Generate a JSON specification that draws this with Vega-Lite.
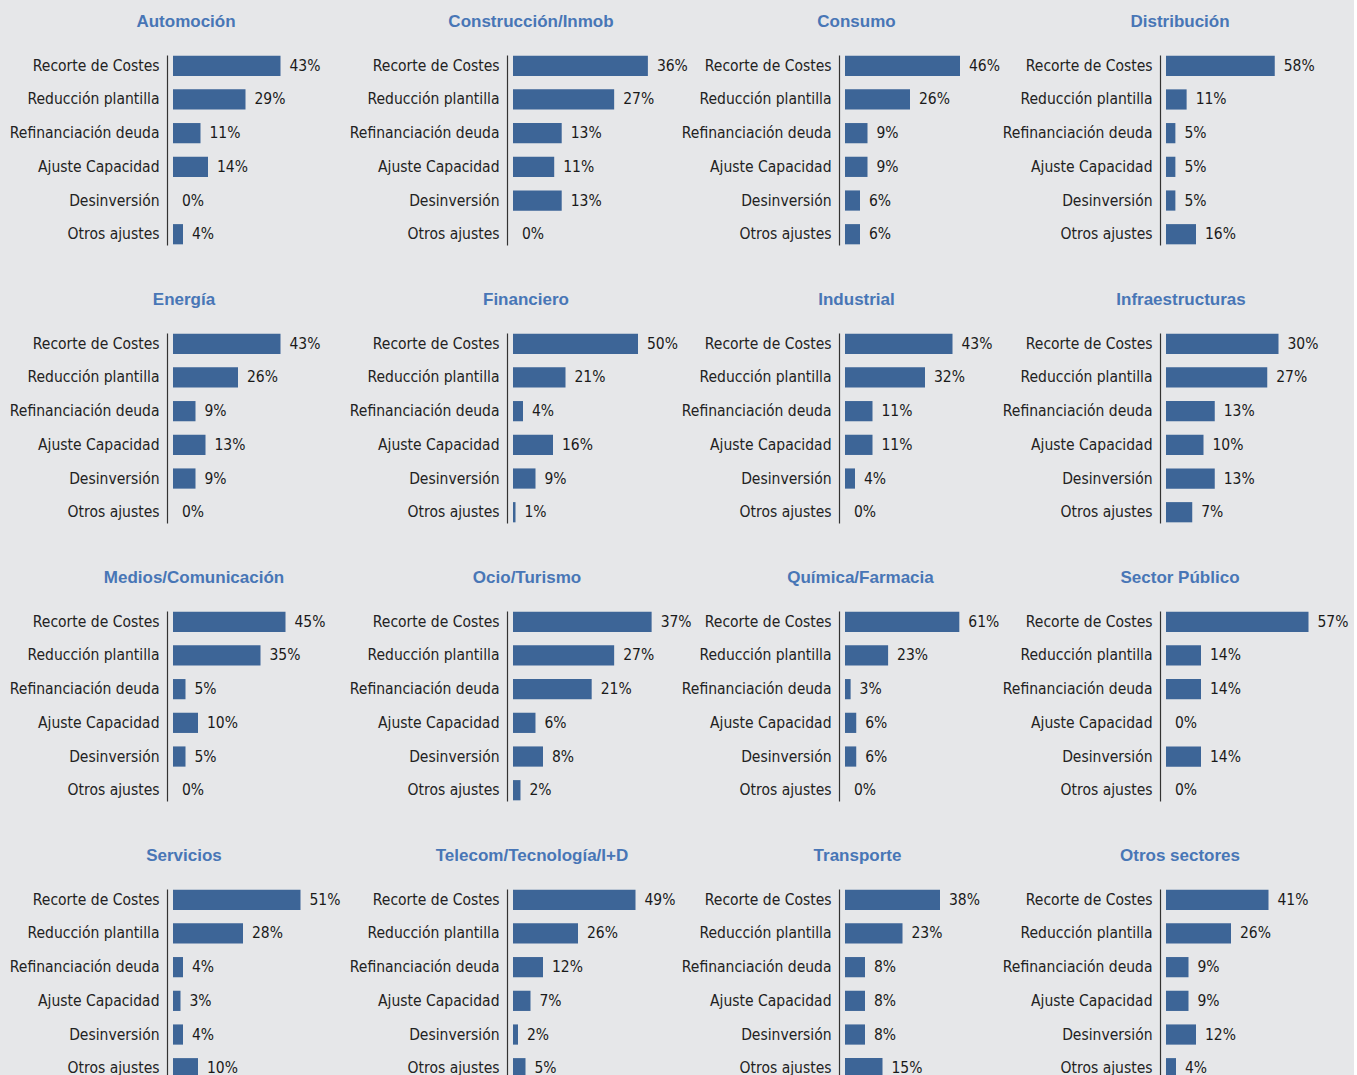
{
  "$schema": "https://vega.github.io/schema/vega-lite/v6.json",
  "background": "#e6e7e9",
  "padding": {"left": 9, "top": 13, "right": 5, "bottom": 5},
  "bounds": "flush",
  "columns": 4,
  "spacing": {"row": 88, "column": 190},
  "data": {"values": [
    {"sector": "Automoción", "medida": "Recorte de Costes", "valor": 0.43},
    {"sector": "Automoción", "medida": "Reducción plantilla", "valor": 0.29},
    {"sector": "Automoción", "medida": "Refinanciación deuda", "valor": 0.11},
    {"sector": "Automoción", "medida": "Ajuste Capacidad", "valor": 0.14},
    {"sector": "Automoción", "medida": "Desinversión", "valor": 0.0},
    {"sector": "Automoción", "medida": "Otros ajustes", "valor": 0.04},
    {"sector": "Construcción/Inmob", "medida": "Recorte de Costes", "valor": 0.36},
    {"sector": "Construcción/Inmob", "medida": "Reducción plantilla", "valor": 0.27},
    {"sector": "Construcción/Inmob", "medida": "Refinanciación deuda", "valor": 0.13},
    {"sector": "Construcción/Inmob", "medida": "Ajuste Capacidad", "valor": 0.11},
    {"sector": "Construcción/Inmob", "medida": "Desinversión", "valor": 0.13},
    {"sector": "Construcción/Inmob", "medida": "Otros ajustes", "valor": 0.0},
    {"sector": "Consumo", "medida": "Recorte de Costes", "valor": 0.46},
    {"sector": "Consumo", "medida": "Reducción plantilla", "valor": 0.26},
    {"sector": "Consumo", "medida": "Refinanciación deuda", "valor": 0.09},
    {"sector": "Consumo", "medida": "Ajuste Capacidad", "valor": 0.09},
    {"sector": "Consumo", "medida": "Desinversión", "valor": 0.06},
    {"sector": "Consumo", "medida": "Otros ajustes", "valor": 0.06},
    {"sector": "Distribución", "medida": "Recorte de Costes", "valor": 0.58},
    {"sector": "Distribución", "medida": "Reducción plantilla", "valor": 0.11},
    {"sector": "Distribución", "medida": "Refinanciación deuda", "valor": 0.05},
    {"sector": "Distribución", "medida": "Ajuste Capacidad", "valor": 0.05},
    {"sector": "Distribución", "medida": "Desinversión", "valor": 0.05},
    {"sector": "Distribución", "medida": "Otros ajustes", "valor": 0.16},
    {"sector": "Energía", "medida": "Recorte de Costes", "valor": 0.43},
    {"sector": "Energía", "medida": "Reducción plantilla", "valor": 0.26},
    {"sector": "Energía", "medida": "Refinanciación deuda", "valor": 0.09},
    {"sector": "Energía", "medida": "Ajuste Capacidad", "valor": 0.13},
    {"sector": "Energía", "medida": "Desinversión", "valor": 0.09},
    {"sector": "Energía", "medida": "Otros ajustes", "valor": 0.0},
    {"sector": "Financiero", "medida": "Recorte de Costes", "valor": 0.5},
    {"sector": "Financiero", "medida": "Reducción plantilla", "valor": 0.21},
    {"sector": "Financiero", "medida": "Refinanciación deuda", "valor": 0.04},
    {"sector": "Financiero", "medida": "Ajuste Capacidad", "valor": 0.16},
    {"sector": "Financiero", "medida": "Desinversión", "valor": 0.09},
    {"sector": "Financiero", "medida": "Otros ajustes", "valor": 0.01},
    {"sector": "Industrial", "medida": "Recorte de Costes", "valor": 0.43},
    {"sector": "Industrial", "medida": "Reducción plantilla", "valor": 0.32},
    {"sector": "Industrial", "medida": "Refinanciación deuda", "valor": 0.11},
    {"sector": "Industrial", "medida": "Ajuste Capacidad", "valor": 0.11},
    {"sector": "Industrial", "medida": "Desinversión", "valor": 0.04},
    {"sector": "Industrial", "medida": "Otros ajustes", "valor": 0.0},
    {"sector": "Infraestructuras", "medida": "Recorte de Costes", "valor": 0.3},
    {"sector": "Infraestructuras", "medida": "Reducción plantilla", "valor": 0.27},
    {"sector": "Infraestructuras", "medida": "Refinanciación deuda", "valor": 0.13},
    {"sector": "Infraestructuras", "medida": "Ajuste Capacidad", "valor": 0.1},
    {"sector": "Infraestructuras", "medida": "Desinversión", "valor": 0.13},
    {"sector": "Infraestructuras", "medida": "Otros ajustes", "valor": 0.07},
    {"sector": "Medios/Comunicación", "medida": "Recorte de Costes", "valor": 0.45},
    {"sector": "Medios/Comunicación", "medida": "Reducción plantilla", "valor": 0.35},
    {"sector": "Medios/Comunicación", "medida": "Refinanciación deuda", "valor": 0.05},
    {"sector": "Medios/Comunicación", "medida": "Ajuste Capacidad", "valor": 0.1},
    {"sector": "Medios/Comunicación", "medida": "Desinversión", "valor": 0.05},
    {"sector": "Medios/Comunicación", "medida": "Otros ajustes", "valor": 0.0},
    {"sector": "Ocio/Turismo", "medida": "Recorte de Costes", "valor": 0.37},
    {"sector": "Ocio/Turismo", "medida": "Reducción plantilla", "valor": 0.27},
    {"sector": "Ocio/Turismo", "medida": "Refinanciación deuda", "valor": 0.21},
    {"sector": "Ocio/Turismo", "medida": "Ajuste Capacidad", "valor": 0.06},
    {"sector": "Ocio/Turismo", "medida": "Desinversión", "valor": 0.08},
    {"sector": "Ocio/Turismo", "medida": "Otros ajustes", "valor": 0.02},
    {"sector": "Química/Farmacia", "medida": "Recorte de Costes", "valor": 0.61},
    {"sector": "Química/Farmacia", "medida": "Reducción plantilla", "valor": 0.23},
    {"sector": "Química/Farmacia", "medida": "Refinanciación deuda", "valor": 0.03},
    {"sector": "Química/Farmacia", "medida": "Ajuste Capacidad", "valor": 0.06},
    {"sector": "Química/Farmacia", "medida": "Desinversión", "valor": 0.06},
    {"sector": "Química/Farmacia", "medida": "Otros ajustes", "valor": 0.0},
    {"sector": "Sector Público", "medida": "Recorte de Costes", "valor": 0.57},
    {"sector": "Sector Público", "medida": "Reducción plantilla", "valor": 0.14},
    {"sector": "Sector Público", "medida": "Refinanciación deuda", "valor": 0.14},
    {"sector": "Sector Público", "medida": "Ajuste Capacidad", "valor": 0.0},
    {"sector": "Sector Público", "medida": "Desinversión", "valor": 0.14},
    {"sector": "Sector Público", "medida": "Otros ajustes", "valor": 0.0},
    {"sector": "Servicios", "medida": "Recorte de Costes", "valor": 0.51},
    {"sector": "Servicios", "medida": "Reducción plantilla", "valor": 0.28},
    {"sector": "Servicios", "medida": "Refinanciación deuda", "valor": 0.04},
    {"sector": "Servicios", "medida": "Ajuste Capacidad", "valor": 0.03},
    {"sector": "Servicios", "medida": "Desinversión", "valor": 0.04},
    {"sector": "Servicios", "medida": "Otros ajustes", "valor": 0.1},
    {"sector": "Telecom/Tecnología/I+D", "medida": "Recorte de Costes", "valor": 0.49},
    {"sector": "Telecom/Tecnología/I+D", "medida": "Reducción plantilla", "valor": 0.26},
    {"sector": "Telecom/Tecnología/I+D", "medida": "Refinanciación deuda", "valor": 0.12},
    {"sector": "Telecom/Tecnología/I+D", "medida": "Ajuste Capacidad", "valor": 0.07},
    {"sector": "Telecom/Tecnología/I+D", "medida": "Desinversión", "valor": 0.02},
    {"sector": "Telecom/Tecnología/I+D", "medida": "Otros ajustes", "valor": 0.05},
    {"sector": "Transporte", "medida": "Recorte de Costes", "valor": 0.38},
    {"sector": "Transporte", "medida": "Reducción plantilla", "valor": 0.23},
    {"sector": "Transporte", "medida": "Refinanciación deuda", "valor": 0.08},
    {"sector": "Transporte", "medida": "Ajuste Capacidad", "valor": 0.08},
    {"sector": "Transporte", "medida": "Desinversión", "valor": 0.08},
    {"sector": "Transporte", "medida": "Otros ajustes", "valor": 0.15},
    {"sector": "Otros sectores", "medida": "Recorte de Costes", "valor": 0.41},
    {"sector": "Otros sectores", "medida": "Reducción plantilla", "valor": 0.26},
    {"sector": "Otros sectores", "medida": "Refinanciación deuda", "valor": 0.09},
    {"sector": "Otros sectores", "medida": "Ajuste Capacidad", "valor": 0.09},
    {"sector": "Otros sectores", "medida": "Desinversión", "valor": 0.12},
    {"sector": "Otros sectores", "medida": "Otros ajustes", "valor": 0.04}
  ]},
  "concat": [
      {"title": {"text": "Automoción", "dx": -62}, "width": 150, "height": 190,
       "transform": [{"filter": "datum.sector === 'Automoción'"}],
       "encoding": {
         "y": {"field": "medida", "type": "nominal", "title": null, "sort": ["Recorte de Costes", "Reducción plantilla", "Refinanciación deuda", "Ajuste Capacidad", "Desinversión", "Otros ajustes"]},
         "x": {"field": "valor", "type": "quantitative", "axis": null, "scale": {"domain": [0, 0.6]}}},
       "layer": [{"mark": {"type": "bar", "color": "#3d6597"}},
                 {"mark": {"type": "text", "align": "left", "dx": 9}, "encoding": {"text": {"field": "valor", "type": "quantitative", "format": ".0%"}}}]},
      {"title": {"text": "Construcción/Inmob", "dx": -53}, "width": 142, "height": 190,
       "transform": [{"filter": "datum.sector === 'Construcción/Inmob'"}],
       "encoding": {
         "y": {"field": "medida", "type": "nominal", "title": null, "sort": ["Recorte de Costes", "Reducción plantilla", "Refinanciación deuda", "Ajuste Capacidad", "Desinversión", "Otros ajustes"]},
         "x": {"field": "valor", "type": "quantitative", "axis": null, "scale": {"domain": [0, 0.379]}}},
       "layer": [{"mark": {"type": "bar", "color": "#3d6597"}},
                 {"mark": {"type": "text", "align": "left", "dx": 9}, "encoding": {"text": {"field": "valor", "type": "quantitative", "format": ".0%"}}}]},
      {"title": {"text": "Consumo", "dx": -54}, "width": 131, "height": 190,
       "transform": [{"filter": "datum.sector === 'Consumo'"}],
       "encoding": {
         "y": {"field": "medida", "type": "nominal", "title": null, "sort": ["Recorte de Costes", "Reducción plantilla", "Refinanciación deuda", "Ajuste Capacidad", "Desinversión", "Otros ajustes"]},
         "x": {"field": "valor", "type": "quantitative", "axis": null, "scale": {"domain": [0, 0.524]}}},
       "layer": [{"mark": {"type": "bar", "color": "#3d6597"}},
                 {"mark": {"type": "text", "align": "left", "dx": 9}, "encoding": {"text": {"field": "valor", "type": "quantitative", "format": ".0%"}}}]},
      {"title": {"text": "Distribución", "dx": -61}, "width": 150, "height": 190,
       "transform": [{"filter": "datum.sector === 'Distribución'"}],
       "encoding": {
         "y": {"field": "medida", "type": "nominal", "title": null, "sort": ["Recorte de Costes", "Reducción plantilla", "Refinanciación deuda", "Ajuste Capacidad", "Desinversión", "Otros ajustes"]},
         "x": {"field": "valor", "type": "quantitative", "axis": null, "scale": {"domain": [0, 0.8]}}},
       "layer": [{"mark": {"type": "bar", "color": "#3d6597"}},
                 {"mark": {"type": "text", "align": "left", "dx": 9}, "encoding": {"text": {"field": "valor", "type": "quantitative", "format": ".0%"}}}]},
      {"title": {"text": "Energía", "dx": -64}, "width": 150, "height": 190,
       "transform": [{"filter": "datum.sector === 'Energía'"}],
       "encoding": {
         "y": {"field": "medida", "type": "nominal", "title": null, "sort": ["Recorte de Costes", "Reducción plantilla", "Refinanciación deuda", "Ajuste Capacidad", "Desinversión", "Otros ajustes"]},
         "x": {"field": "valor", "type": "quantitative", "axis": null, "scale": {"domain": [0, 0.6]}}},
       "layer": [{"mark": {"type": "bar", "color": "#3d6597"}},
                 {"mark": {"type": "text", "align": "left", "dx": 9}, "encoding": {"text": {"field": "valor", "type": "quantitative", "format": ".0%"}}}]},
      {"title": {"text": "Financiero", "dx": -58}, "width": 142, "height": 190,
       "transform": [{"filter": "datum.sector === 'Financiero'"}],
       "encoding": {
         "y": {"field": "medida", "type": "nominal", "title": null, "sort": ["Recorte de Costes", "Reducción plantilla", "Refinanciación deuda", "Ajuste Capacidad", "Desinversión", "Otros ajustes"]},
         "x": {"field": "valor", "type": "quantitative", "axis": null, "scale": {"domain": [0, 0.568]}}},
       "layer": [{"mark": {"type": "bar", "color": "#3d6597"}},
                 {"mark": {"type": "text", "align": "left", "dx": 9}, "encoding": {"text": {"field": "valor", "type": "quantitative", "format": ".0%"}}}]},
      {"title": {"text": "Industrial", "dx": -54}, "width": 131, "height": 190,
       "transform": [{"filter": "datum.sector === 'Industrial'"}],
       "encoding": {
         "y": {"field": "medida", "type": "nominal", "title": null, "sort": ["Recorte de Costes", "Reducción plantilla", "Refinanciación deuda", "Ajuste Capacidad", "Desinversión", "Otros ajustes"]},
         "x": {"field": "valor", "type": "quantitative", "axis": null, "scale": {"domain": [0, 0.524]}}},
       "layer": [{"mark": {"type": "bar", "color": "#3d6597"}},
                 {"mark": {"type": "text", "align": "left", "dx": 9}, "encoding": {"text": {"field": "valor", "type": "quantitative", "format": ".0%"}}}]},
      {"title": {"text": "Infraestructuras", "dx": -60}, "width": 150, "height": 190,
       "transform": [{"filter": "datum.sector === 'Infraestructuras'"}],
       "encoding": {
         "y": {"field": "medida", "type": "nominal", "title": null, "sort": ["Recorte de Costes", "Reducción plantilla", "Refinanciación deuda", "Ajuste Capacidad", "Desinversión", "Otros ajustes"]},
         "x": {"field": "valor", "type": "quantitative", "axis": null, "scale": {"domain": [0, 0.4]}}},
       "layer": [{"mark": {"type": "bar", "color": "#3d6597"}},
                 {"mark": {"type": "text", "align": "left", "dx": 9}, "encoding": {"text": {"field": "valor", "type": "quantitative", "format": ".0%"}}}]},
      {"title": {"text": "Medios/Comunicación", "dx": -54}, "width": 150, "height": 190,
       "transform": [{"filter": "datum.sector === 'Medios/Comunicación'"}],
       "encoding": {
         "y": {"field": "medida", "type": "nominal", "title": null, "sort": ["Recorte de Costes", "Reducción plantilla", "Refinanciación deuda", "Ajuste Capacidad", "Desinversión", "Otros ajustes"]},
         "x": {"field": "valor", "type": "quantitative", "axis": null, "scale": {"domain": [0, 0.6]}}},
       "layer": [{"mark": {"type": "bar", "color": "#3d6597"}},
                 {"mark": {"type": "text", "align": "left", "dx": 9}, "encoding": {"text": {"field": "valor", "type": "quantitative", "format": ".0%"}}}]},
      {"title": {"text": "Ocio/Turismo", "dx": -57}, "width": 142, "height": 190,
       "transform": [{"filter": "datum.sector === 'Ocio/Turismo'"}],
       "encoding": {
         "y": {"field": "medida", "type": "nominal", "title": null, "sort": ["Recorte de Costes", "Reducción plantilla", "Refinanciación deuda", "Ajuste Capacidad", "Desinversión", "Otros ajustes"]},
         "x": {"field": "valor", "type": "quantitative", "axis": null, "scale": {"domain": [0, 0.379]}}},
       "layer": [{"mark": {"type": "bar", "color": "#3d6597"}},
                 {"mark": {"type": "text", "align": "left", "dx": 9}, "encoding": {"text": {"field": "valor", "type": "quantitative", "format": ".0%"}}}]},
      {"title": {"text": "Química/Farmacia", "dx": -50}, "width": 131, "height": 190,
       "transform": [{"filter": "datum.sector === 'Química/Farmacia'"}],
       "encoding": {
         "y": {"field": "medida", "type": "nominal", "title": null, "sort": ["Recorte de Costes", "Reducción plantilla", "Refinanciación deuda", "Ajuste Capacidad", "Desinversión", "Otros ajustes"]},
         "x": {"field": "valor", "type": "quantitative", "axis": null, "scale": {"domain": [0, 0.699]}}},
       "layer": [{"mark": {"type": "bar", "color": "#3d6597"}},
                 {"mark": {"type": "text", "align": "left", "dx": 9}, "encoding": {"text": {"field": "valor", "type": "quantitative", "format": ".0%"}}}]},
      {"title": {"text": "Sector Público", "dx": -61}, "width": 150, "height": 190,
       "transform": [{"filter": "datum.sector === 'Sector Público'"}],
       "encoding": {
         "y": {"field": "medida", "type": "nominal", "title": null, "sort": ["Recorte de Costes", "Reducción plantilla", "Refinanciación deuda", "Ajuste Capacidad", "Desinversión", "Otros ajustes"]},
         "x": {"field": "valor", "type": "quantitative", "axis": null, "scale": {"domain": [0, 0.6]}}},
       "layer": [{"mark": {"type": "bar", "color": "#3d6597"}},
                 {"mark": {"type": "text", "align": "left", "dx": 9}, "encoding": {"text": {"field": "valor", "type": "quantitative", "format": ".0%"}}}]},
      {"title": {"text": "Servicios", "dx": -64}, "width": 150, "height": 190,
       "transform": [{"filter": "datum.sector === 'Servicios'"}],
       "encoding": {
         "y": {"field": "medida", "type": "nominal", "title": null, "sort": ["Recorte de Costes", "Reducción plantilla", "Refinanciación deuda", "Ajuste Capacidad", "Desinversión", "Otros ajustes"]},
         "x": {"field": "valor", "type": "quantitative", "axis": null, "scale": {"domain": [0, 0.6]}}},
       "layer": [{"mark": {"type": "bar", "color": "#3d6597"}},
                 {"mark": {"type": "text", "align": "left", "dx": 9}, "encoding": {"text": {"field": "valor", "type": "quantitative", "format": ".0%"}}}]},
      {"title": {"text": "Telecom/Tecnología/I+D", "dx": -52}, "width": 142, "height": 190,
       "transform": [{"filter": "datum.sector === 'Telecom/Tecnología/I+D'"}],
       "encoding": {
         "y": {"field": "medida", "type": "nominal", "title": null, "sort": ["Recorte de Costes", "Reducción plantilla", "Refinanciación deuda", "Ajuste Capacidad", "Desinversión", "Otros ajustes"]},
         "x": {"field": "valor", "type": "quantitative", "axis": null, "scale": {"domain": [0, 0.568]}}},
       "layer": [{"mark": {"type": "bar", "color": "#3d6597"}},
                 {"mark": {"type": "text", "align": "left", "dx": 9}, "encoding": {"text": {"field": "valor", "type": "quantitative", "format": ".0%"}}}]},
      {"title": {"text": "Transporte", "dx": -53}, "width": 131, "height": 190,
       "transform": [{"filter": "datum.sector === 'Transporte'"}],
       "encoding": {
         "y": {"field": "medida", "type": "nominal", "title": null, "sort": ["Recorte de Costes", "Reducción plantilla", "Refinanciación deuda", "Ajuste Capacidad", "Desinversión", "Otros ajustes"]},
         "x": {"field": "valor", "type": "quantitative", "axis": null, "scale": {"domain": [0, 0.524]}}},
       "layer": [{"mark": {"type": "bar", "color": "#3d6597"}},
                 {"mark": {"type": "text", "align": "left", "dx": 9}, "encoding": {"text": {"field": "valor", "type": "quantitative", "format": ".0%"}}}]},
      {"title": {"text": "Otros sectores", "dx": -61}, "width": 150, "height": 190,
       "transform": [{"filter": "datum.sector === 'Otros sectores'"}],
       "encoding": {
         "y": {"field": "medida", "type": "nominal", "title": null, "sort": ["Recorte de Costes", "Reducción plantilla", "Refinanciación deuda", "Ajuste Capacidad", "Desinversión", "Otros ajustes"]},
         "x": {"field": "valor", "type": "quantitative", "axis": null, "scale": {"domain": [0, 0.6]}}},
       "layer": [{"mark": {"type": "bar", "color": "#3d6597"}},
                 {"mark": {"type": "text", "align": "left", "dx": 9}, "encoding": {"text": {"field": "valor", "type": "quantitative", "format": ".0%"}}}]}
  ],
  "config": {
    "view": {"stroke": null},
    "scale": {"bandPaddingInner": 0.4, "bandPaddingOuter": 0.02},
    "axisY": {"domainColor": "#333333", "domainWidth": 1.2, "ticks": false, "tickSize": 0, "labelPadding": 8, "offset": 6, "labelFont": "DejaVu Sans Condensed", "labelFontSize": 15.5, "labelColor": "#222222", "grid": false},
    "text": {"font": "DejaVu Sans Condensed", "fontSize": 15.5, "color": "#1a1a1a", "baseline": "middle"},
    "title": {"font": "Liberation Sans", "fontSize": 17, "fontWeight": "bold", "color": "#4876b6", "anchor": "middle", "baseline": "alphabetic", "offset": 24}
  }
}
